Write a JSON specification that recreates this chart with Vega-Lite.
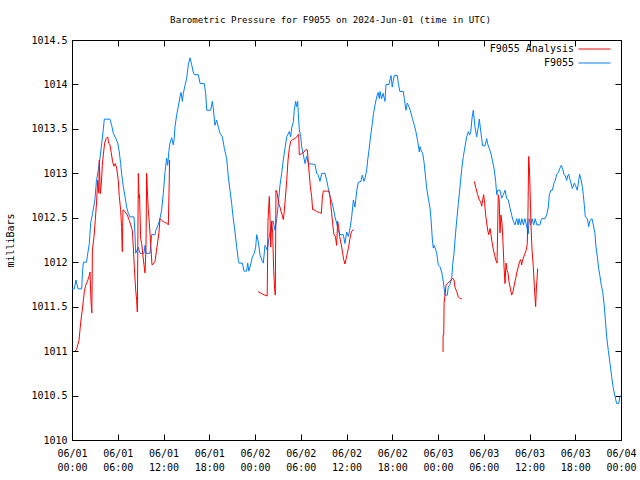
{
  "$schema": "https://vega.github.io/schema/vega-lite/v6.json",
  "width": 549,
  "height": 400,
  "autosize": {"type": "none"},
  "padding": {"left": 72, "top": 40, "right": 19, "bottom": 40},
  "title": {"text": "Barometric Pressure for F9055 on 2024-Jun-01 (time in UTC)", "font": "DejaVu Sans Mono", "fontSize": 9.2, "fontWeight": "normal", "anchor": "middle", "dx": -16, "offset": 10, "color": "black"},
  "config": {
    "font": "DejaVu Sans Mono",
    "view": {"stroke": "black", "strokeWidth": 1},
    "axis": {"domain": false, "grid": false, "tickColor": "black", "labelColor": "black", "labelFont": "DejaVu Sans Mono", "labelFontSize": 10, "titleFont": "DejaVu Sans Mono", "titleFontSize": 10, "titleFontWeight": "normal", "titleColor": "black"}
  },
  "data": {"values": [
    {"h":0.0,"p":1011.70,"series":"F9055","seg":"b"},{"h":0.3,"p":1011.70,"series":"F9055","seg":"b"},{"h":0.52,"p":1011.80,"series":"F9055","seg":"b"},{"h":0.8,"p":1011.70,"series":"F9055","seg":"b"},{"h":1.27,"p":1011.70,"series":"F9055","seg":"b"},{"h":1.4,"p":1011.92,"series":"F9055","seg":"b"},{"h":1.5,"p":1012.0,"series":"F9055","seg":"b"},{"h":1.9,"p":1012.0,"series":"F9055","seg":"b"},{"h":2.0,"p":1012.06,"series":"F9055","seg":"b"},{"h":2.27,"p":1012.21,"series":"F9055","seg":"b"},{"h":2.45,"p":1012.44,"series":"F9055","seg":"b"},{"h":2.7,"p":1012.55,"series":"F9055","seg":"b"},{"h":3.0,"p":1012.70,"series":"F9055","seg":"b"},{"h":3.2,"p":1012.91,"series":"F9055","seg":"b"},{"h":3.45,"p":1013.04,"series":"F9055","seg":"b"},{"h":3.67,"p":1013.17,"series":"F9055","seg":"b"},{"h":3.9,"p":1013.34,"series":"F9055","seg":"b"},{"h":4.1,"p":1013.49,"series":"F9055","seg":"b"},{"h":4.24,"p":1013.61,"series":"F9055","seg":"b"},{"h":4.98,"p":1013.61,"series":"F9055","seg":"b"},{"h":5.2,"p":1013.54,"series":"F9055","seg":"b"},{"h":5.42,"p":1013.45,"series":"F9055","seg":"b"},{"h":5.77,"p":1013.39,"series":"F9055","seg":"b"},{"h":6.0,"p":1013.34,"series":"F9055","seg":"b"},{"h":6.2,"p":1013.24,"series":"F9055","seg":"b"},{"h":6.38,"p":1013.11,"series":"F9055","seg":"b"},{"h":6.5,"p":1013.0,"series":"F9055","seg":"b"},{"h":6.73,"p":1012.85,"series":"F9055","seg":"b"},{"h":6.95,"p":1012.74,"series":"F9055","seg":"b"},{"h":7.17,"p":1012.62,"series":"F9055","seg":"b"},{"h":7.39,"p":1012.55,"series":"F9055","seg":"b"},{"h":7.6,"p":1012.51,"series":"F9055","seg":"b"},{"h":8.13,"p":1012.51,"series":"F9055","seg":"b"},{"h":8.26,"p":1012.32,"series":"F9055","seg":"b"},{"h":8.35,"p":1012.10,"series":"F9055","seg":"b"},{"h":8.7,"p":1012.17,"series":"F9055","seg":"b"},{"h":8.92,"p":1012.10,"series":"F9055","seg":"b"},{"h":9.44,"p":1012.10,"series":"F9055","seg":"b"},{"h":9.57,"p":1012.19,"series":"F9055","seg":"b"},{"h":9.7,"p":1012.10,"series":"F9055","seg":"b"},{"h":10.23,"p":1012.10,"series":"F9055","seg":"b"},{"h":10.45,"p":1012.31,"series":"F9055","seg":"b"},{"h":10.89,"p":1012.31,"series":"F9055","seg":"b"},{"h":11.0,"p":1012.36,"series":"F9055","seg":"b"},{"h":11.3,"p":1012.42,"series":"F9055","seg":"b"},{"h":11.54,"p":1012.49,"series":"F9055","seg":"b"},{"h":11.76,"p":1012.59,"series":"F9055","seg":"b"},{"h":11.98,"p":1012.78,"series":"F9055","seg":"b"},{"h":12.2,"p":1013.02,"series":"F9055","seg":"b"},{"h":12.42,"p":1013.17,"series":"F9055","seg":"b"},{"h":12.55,"p":1013.09,"series":"F9055","seg":"b"},{"h":12.72,"p":1013.26,"series":"F9055","seg":"b"},{"h":12.85,"p":1013.34,"series":"F9055","seg":"b"},{"h":13.07,"p":1013.40,"series":"F9055","seg":"b"},{"h":13.29,"p":1013.32,"series":"F9055","seg":"b"},{"h":13.4,"p":1013.39,"series":"F9055","seg":"b"},{"h":13.5,"p":1013.52,"series":"F9055","seg":"b"},{"h":13.73,"p":1013.66,"series":"F9055","seg":"b"},{"h":13.94,"p":1013.75,"series":"F9055","seg":"b"},{"h":14.16,"p":1013.86,"series":"F9055","seg":"b"},{"h":14.3,"p":1013.91,"series":"F9055","seg":"b"},{"h":14.47,"p":1013.81,"series":"F9055","seg":"b"},{"h":14.6,"p":1013.90,"series":"F9055","seg":"b"},{"h":14.82,"p":1013.99,"series":"F9055","seg":"b"},{"h":15.04,"p":1014.07,"series":"F9055","seg":"b"},{"h":15.25,"p":1014.22,"series":"F9055","seg":"b"},{"h":15.48,"p":1014.30,"series":"F9055","seg":"b"},{"h":15.7,"p":1014.22,"series":"F9055","seg":"b"},{"h":15.9,"p":1014.14,"series":"F9055","seg":"b"},{"h":16.04,"p":1014.11,"series":"F9055","seg":"b"},{"h":16.57,"p":1014.11,"series":"F9055","seg":"b"},{"h":16.8,"p":1014.01,"series":"F9055","seg":"b"},{"h":17.35,"p":1014.01,"series":"F9055","seg":"b"},{"h":17.53,"p":1013.90,"series":"F9055","seg":"b"},{"h":17.67,"p":1013.71,"series":"F9055","seg":"b"},{"h":18.19,"p":1013.71,"series":"F9055","seg":"b"},{"h":18.4,"p":1013.81,"series":"F9055","seg":"b"},{"h":18.53,"p":1013.73,"series":"F9055","seg":"b"},{"h":18.75,"p":1013.54,"series":"F9055","seg":"b"},{"h":18.97,"p":1013.60,"series":"F9055","seg":"b"},{"h":19.19,"p":1013.52,"series":"F9055","seg":"b"},{"h":19.41,"p":1013.45,"series":"F9055","seg":"b"},{"h":19.72,"p":1013.41,"series":"F9055","seg":"b"},{"h":19.98,"p":1013.28,"series":"F9055","seg":"b"},{"h":20.28,"p":1013.17,"series":"F9055","seg":"b"},{"h":20.5,"p":1012.96,"series":"F9055","seg":"b"},{"h":20.72,"p":1012.81,"series":"F9055","seg":"b"},{"h":20.94,"p":1012.66,"series":"F9055","seg":"b"},{"h":21.15,"p":1012.49,"series":"F9055","seg":"b"},{"h":21.38,"p":1012.34,"series":"F9055","seg":"b"},{"h":21.6,"p":1012.17,"series":"F9055","seg":"b"},{"h":21.82,"p":1012.02,"series":"F9055","seg":"b"},{"h":21.9,"p":1011.99,"series":"F9055","seg":"b"},{"h":22.34,"p":1011.99,"series":"F9055","seg":"b"},{"h":22.56,"p":1011.90,"series":"F9055","seg":"b"},{"h":22.9,"p":1011.90,"series":"F9055","seg":"b"},{"h":23.04,"p":1011.99,"series":"F9055","seg":"b"},{"h":23.2,"p":1011.90,"series":"F9055","seg":"b"},{"h":23.48,"p":1011.99,"series":"F9055","seg":"b"},{"h":23.65,"p":1012.06,"series":"F9055","seg":"b"},{"h":23.9,"p":1012.10,"series":"F9055","seg":"b"},{"h":24.09,"p":1012.17,"series":"F9055","seg":"b"},{"h":24.22,"p":1012.31,"series":"F9055","seg":"b"},{"h":24.44,"p":1012.23,"series":"F9055","seg":"b"},{"h":24.66,"p":1012.08,"series":"F9055","seg":"b"},{"h":24.96,"p":1012.01,"series":"F9055","seg":"b"},{"h":25.09,"p":1011.99,"series":"F9055","seg":"b"},{"h":25.31,"p":1012.19,"series":"F9055","seg":"b"},{"h":25.6,"p":1012.14,"series":"F9055","seg":"b"},{"h":25.88,"p":1012.29,"series":"F9055","seg":"b"},{"h":26.19,"p":1012.46,"series":"F9055","seg":"b"},{"h":26.4,"p":1012.46,"series":"F9055","seg":"b"},{"h":26.62,"p":1012.36,"series":"F9055","seg":"b"},{"h":26.85,"p":1012.49,"series":"F9055","seg":"b"},{"h":27.06,"p":1012.66,"series":"F9055","seg":"b"},{"h":27.28,"p":1012.87,"series":"F9055","seg":"b"},{"h":27.5,"p":1013.00,"series":"F9055","seg":"b"},{"h":27.71,"p":1013.15,"series":"F9055","seg":"b"},{"h":27.93,"p":1013.28,"series":"F9055","seg":"b"},{"h":28.16,"p":1013.41,"series":"F9055","seg":"b"},{"h":28.5,"p":1013.47,"series":"F9055","seg":"b"},{"h":28.68,"p":1013.41,"series":"F9055","seg":"b"},{"h":28.81,"p":1013.51,"series":"F9055","seg":"b"},{"h":29.03,"p":1013.58,"series":"F9055","seg":"b"},{"h":29.15,"p":1013.71,"series":"F9055","seg":"b"},{"h":29.33,"p":1013.81,"series":"F9055","seg":"b"},{"h":29.45,"p":1013.75,"series":"F9055","seg":"b"},{"h":29.6,"p":1013.81,"series":"F9055","seg":"b"},{"h":29.68,"p":1013.67,"series":"F9055","seg":"b"},{"h":29.81,"p":1013.49,"series":"F9055","seg":"b"},{"h":30.0,"p":1013.41,"series":"F9055","seg":"b"},{"h":30.12,"p":1013.30,"series":"F9055","seg":"b"},{"h":30.34,"p":1013.21,"series":"F9055","seg":"b"},{"h":30.56,"p":1013.11,"series":"F9055","seg":"b"},{"h":30.78,"p":1013.19,"series":"F9055","seg":"b"},{"h":31.0,"p":1013.11,"series":"F9055","seg":"b"},{"h":31.87,"p":1013.10,"series":"F9055","seg":"b"},{"h":32.09,"p":1013.0,"series":"F9055","seg":"b"},{"h":32.3,"p":1012.98,"series":"F9055","seg":"b"},{"h":32.52,"p":1012.91,"series":"F9055","seg":"b"},{"h":32.75,"p":1013.0,"series":"F9055","seg":"b"},{"h":33.18,"p":1013.0,"series":"F9055","seg":"b"},{"h":33.4,"p":1012.92,"series":"F9055","seg":"b"},{"h":33.62,"p":1012.83,"series":"F9055","seg":"b"},{"h":33.84,"p":1012.74,"series":"F9055","seg":"b"},{"h":34.06,"p":1012.68,"series":"F9055","seg":"b"},{"h":34.27,"p":1012.61,"series":"F9055","seg":"b"},{"h":34.49,"p":1012.51,"series":"F9055","seg":"b"},{"h":34.71,"p":1012.44,"series":"F9055","seg":"b"},{"h":34.93,"p":1012.36,"series":"F9055","seg":"b"},{"h":35.15,"p":1012.31,"series":"F9055","seg":"b"},{"h":35.58,"p":1012.31,"series":"F9055","seg":"b"},{"h":35.8,"p":1012.21,"series":"F9055","seg":"b"},{"h":36.02,"p":1012.34,"series":"F9055","seg":"b"},{"h":36.24,"p":1012.29,"series":"F9055","seg":"b"},{"h":36.46,"p":1012.38,"series":"F9055","seg":"b"},{"h":36.68,"p":1012.51,"series":"F9055","seg":"b"},{"h":36.9,"p":1012.70,"series":"F9055","seg":"b"},{"h":37.11,"p":1012.62,"series":"F9055","seg":"b"},{"h":37.34,"p":1012.80,"series":"F9055","seg":"b"},{"h":37.55,"p":1012.90,"series":"F9055","seg":"b"},{"h":37.9,"p":1012.91,"series":"F9055","seg":"b"},{"h":38.07,"p":1012.98,"series":"F9055","seg":"b"},{"h":38.3,"p":1012.91,"series":"F9055","seg":"b"},{"h":38.45,"p":1012.95,"series":"F9055","seg":"b"},{"h":38.65,"p":1013.04,"series":"F9055","seg":"b"},{"h":38.78,"p":1013.15,"series":"F9055","seg":"b"},{"h":38.95,"p":1013.26,"series":"F9055","seg":"b"},{"h":39.08,"p":1013.36,"series":"F9055","seg":"b"},{"h":39.21,"p":1013.45,"series":"F9055","seg":"b"},{"h":39.39,"p":1013.56,"series":"F9055","seg":"b"},{"h":39.52,"p":1013.66,"series":"F9055","seg":"b"},{"h":39.74,"p":1013.77,"series":"F9055","seg":"b"},{"h":39.96,"p":1013.86,"series":"F9055","seg":"b"},{"h":40.17,"p":1013.91,"series":"F9055","seg":"b"},{"h":40.3,"p":1013.84,"series":"F9055","seg":"b"},{"h":40.4,"p":1013.92,"series":"F9055","seg":"b"},{"h":40.6,"p":1013.84,"series":"F9055","seg":"b"},{"h":40.8,"p":1013.90,"series":"F9055","seg":"b"},{"h":41.05,"p":1013.81,"series":"F9055","seg":"b"},{"h":41.18,"p":1014.00,"series":"F9055","seg":"b"},{"h":41.57,"p":1014.00,"series":"F9055","seg":"b"},{"h":41.7,"p":1014.05,"series":"F9055","seg":"b"},{"h":41.84,"p":1014.10,"series":"F9055","seg":"b"},{"h":42.0,"p":1013.97,"series":"F9055","seg":"b"},{"h":42.13,"p":1014.04,"series":"F9055","seg":"b"},{"h":42.27,"p":1014.10,"series":"F9055","seg":"b"},{"h":42.66,"p":1014.10,"series":"F9055","seg":"b"},{"h":42.8,"p":1014.01,"series":"F9055","seg":"b"},{"h":43.0,"p":1013.92,"series":"F9055","seg":"b"},{"h":43.44,"p":1013.92,"series":"F9055","seg":"b"},{"h":43.58,"p":1013.84,"series":"F9055","seg":"b"},{"h":43.8,"p":1013.71,"series":"F9055","seg":"b"},{"h":43.97,"p":1013.79,"series":"F9055","seg":"b"},{"h":44.2,"p":1013.75,"series":"F9055","seg":"b"},{"h":44.42,"p":1013.69,"series":"F9055","seg":"b"},{"h":44.63,"p":1013.62,"series":"F9055","seg":"b"},{"h":44.9,"p":1013.54,"series":"F9055","seg":"b"},{"h":45.1,"p":1013.47,"series":"F9055","seg":"b"},{"h":45.34,"p":1013.36,"series":"F9055","seg":"b"},{"h":45.55,"p":1013.24,"series":"F9055","seg":"b"},{"h":45.64,"p":1013.30,"series":"F9055","seg":"b"},{"h":45.78,"p":1013.26,"series":"F9055","seg":"b"},{"h":46.0,"p":1013.22,"series":"F9055","seg":"b"},{"h":46.16,"p":1013.13,"series":"F9055","seg":"b"},{"h":46.39,"p":1012.94,"series":"F9055","seg":"b"},{"h":46.52,"p":1012.83,"series":"F9055","seg":"b"},{"h":46.73,"p":1012.72,"series":"F9055","seg":"b"},{"h":46.95,"p":1012.61,"series":"F9055","seg":"b"},{"h":47.08,"p":1012.49,"series":"F9055","seg":"b"},{"h":47.25,"p":1012.27,"series":"F9055","seg":"b"},{"h":47.38,"p":1012.16,"series":"F9055","seg":"b"},{"h":47.51,"p":1012.19,"series":"F9055","seg":"b"},{"h":47.7,"p":1012.14,"series":"F9055","seg":"b"},{"h":47.83,"p":1012.10,"series":"F9055","seg":"b"},{"h":48.04,"p":1011.97,"series":"F9055","seg":"b"},{"h":48.26,"p":1011.95,"series":"F9055","seg":"b"},{"h":48.48,"p":1011.89,"series":"F9055","seg":"b"},{"h":48.7,"p":1011.78,"series":"F9055","seg":"b"},{"h":48.92,"p":1011.63,"series":"F9055","seg":"b"},{"h":49.22,"p":1011.63,"series":"F9055","seg":"b"},{"h":49.35,"p":1011.72,"series":"F9055","seg":"b"},{"h":49.57,"p":1011.75,"series":"F9055","seg":"b"},{"h":49.8,"p":1011.82,"series":"F9055","seg":"b"},{"h":49.92,"p":1011.97,"series":"F9055","seg":"b"},{"h":50.1,"p":1012.10,"series":"F9055","seg":"b"},{"h":50.23,"p":1012.25,"series":"F9055","seg":"b"},{"h":50.45,"p":1012.47,"series":"F9055","seg":"b"},{"h":50.67,"p":1012.66,"series":"F9055","seg":"b"},{"h":50.89,"p":1012.85,"series":"F9055","seg":"b"},{"h":51.1,"p":1013.04,"series":"F9055","seg":"b"},{"h":51.32,"p":1013.19,"series":"F9055","seg":"b"},{"h":51.54,"p":1013.30,"series":"F9055","seg":"b"},{"h":51.76,"p":1013.41,"series":"F9055","seg":"b"},{"h":51.98,"p":1013.47,"series":"F9055","seg":"b"},{"h":52.15,"p":1013.43,"series":"F9055","seg":"b"},{"h":52.3,"p":1013.47,"series":"F9055","seg":"b"},{"h":52.46,"p":1013.62,"series":"F9055","seg":"b"},{"h":52.63,"p":1013.71,"series":"F9055","seg":"b"},{"h":52.85,"p":1013.52,"series":"F9055","seg":"b"},{"h":53.07,"p":1013.41,"series":"F9055","seg":"b"},{"h":53.28,"p":1013.52,"series":"F9055","seg":"b"},{"h":53.42,"p":1013.61,"series":"F9055","seg":"b"},{"h":53.55,"p":1013.51,"series":"F9055","seg":"b"},{"h":53.73,"p":1013.39,"series":"F9055","seg":"b"},{"h":53.86,"p":1013.31,"series":"F9055","seg":"b"},{"h":54.16,"p":1013.31,"series":"F9055","seg":"b"},{"h":54.39,"p":1013.39,"series":"F9055","seg":"b"},{"h":54.52,"p":1013.33,"series":"F9055","seg":"b"},{"h":54.73,"p":1013.28,"series":"F9055","seg":"b"},{"h":54.95,"p":1013.22,"series":"F9055","seg":"b"},{"h":55.17,"p":1013.13,"series":"F9055","seg":"b"},{"h":55.38,"p":1013.04,"series":"F9055","seg":"b"},{"h":55.56,"p":1012.91,"series":"F9055","seg":"b"},{"h":55.7,"p":1012.76,"series":"F9055","seg":"b"},{"h":55.83,"p":1012.81,"series":"F9055","seg":"b"},{"h":56.13,"p":1012.81,"series":"F9055","seg":"b"},{"h":56.35,"p":1012.72,"series":"F9055","seg":"b"},{"h":56.57,"p":1012.76,"series":"F9055","seg":"b"},{"h":56.79,"p":1012.81,"series":"F9055","seg":"b"},{"h":57.0,"p":1012.72,"series":"F9055","seg":"b"},{"h":57.22,"p":1012.70,"series":"F9055","seg":"b"},{"h":57.44,"p":1012.61,"series":"F9055","seg":"b"},{"h":57.66,"p":1012.53,"series":"F9055","seg":"b"},{"h":57.88,"p":1012.46,"series":"F9055","seg":"b"},{"h":58.1,"p":1012.42,"series":"F9055","seg":"b"},{"h":58.32,"p":1012.49,"series":"F9055","seg":"b"},{"h":58.5,"p":1012.42,"series":"F9055","seg":"b"},{"h":58.63,"p":1012.49,"series":"F9055","seg":"b"},{"h":58.82,"p":1012.42,"series":"F9055","seg":"b"},{"h":59.0,"p":1012.49,"series":"F9055","seg":"b"},{"h":59.2,"p":1012.42,"series":"F9055","seg":"b"},{"h":59.4,"p":1012.49,"series":"F9055","seg":"b"},{"h":59.6,"p":1012.42,"series":"F9055","seg":"b"},{"h":59.84,"p":1012.32,"series":"F9055","seg":"b"},{"h":59.95,"p":1012.49,"series":"F9055","seg":"b"},{"h":60.15,"p":1012.42,"series":"F9055","seg":"b"},{"h":60.35,"p":1012.49,"series":"F9055","seg":"b"},{"h":60.55,"p":1012.42,"series":"F9055","seg":"b"},{"h":60.75,"p":1012.49,"series":"F9055","seg":"b"},{"h":60.95,"p":1012.42,"series":"F9055","seg":"b"},{"h":61.38,"p":1012.42,"series":"F9055","seg":"b"},{"h":61.5,"p":1012.47,"series":"F9055","seg":"b"},{"h":61.6,"p":1012.49,"series":"F9055","seg":"b"},{"h":62.03,"p":1012.49,"series":"F9055","seg":"b"},{"h":62.25,"p":1012.53,"series":"F9055","seg":"b"},{"h":62.47,"p":1012.62,"series":"F9055","seg":"b"},{"h":62.6,"p":1012.76,"series":"F9055","seg":"b"},{"h":62.82,"p":1012.81,"series":"F9055","seg":"b"},{"h":63.0,"p":1012.81,"series":"F9055","seg":"b"},{"h":63.21,"p":1012.89,"series":"F9055","seg":"b"},{"h":63.38,"p":1012.92,"series":"F9055","seg":"b"},{"h":63.57,"p":1012.99,"series":"F9055","seg":"b"},{"h":63.78,"p":1013.01,"series":"F9055","seg":"b"},{"h":64.0,"p":1013.06,"series":"F9055","seg":"b"},{"h":64.17,"p":1013.09,"series":"F9055","seg":"b"},{"h":64.35,"p":1013.05,"series":"F9055","seg":"b"},{"h":64.52,"p":1012.99,"series":"F9055","seg":"b"},{"h":64.7,"p":1012.97,"series":"F9055","seg":"b"},{"h":64.88,"p":1012.92,"series":"F9055","seg":"b"},{"h":65.0,"p":1012.97,"series":"F9055","seg":"b"},{"h":65.14,"p":1012.99,"series":"F9055","seg":"b"},{"h":65.27,"p":1012.94,"series":"F9055","seg":"b"},{"h":65.44,"p":1012.89,"series":"F9055","seg":"b"},{"h":65.62,"p":1012.83,"series":"F9055","seg":"b"},{"h":65.88,"p":1012.89,"series":"F9055","seg":"b"},{"h":66.05,"p":1012.86,"series":"F9055","seg":"b"},{"h":66.27,"p":1012.81,"series":"F9055","seg":"b"},{"h":66.45,"p":1012.92,"series":"F9055","seg":"b"},{"h":66.58,"p":1012.99,"series":"F9055","seg":"b"},{"h":66.72,"p":1012.94,"series":"F9055","seg":"b"},{"h":66.89,"p":1012.87,"series":"F9055","seg":"b"},{"h":67.06,"p":1012.76,"series":"F9055","seg":"b"},{"h":67.19,"p":1012.64,"series":"F9055","seg":"b"},{"h":67.32,"p":1012.51,"series":"F9055","seg":"b"},{"h":67.58,"p":1012.49,"series":"F9055","seg":"b"},{"h":67.77,"p":1012.40,"series":"F9055","seg":"b"},{"h":67.93,"p":1012.47,"series":"F9055","seg":"b"},{"h":68.2,"p":1012.49,"series":"F9055","seg":"b"},{"h":68.37,"p":1012.42,"series":"F9055","seg":"b"},{"h":68.59,"p":1012.32,"series":"F9055","seg":"b"},{"h":68.72,"p":1012.17,"series":"F9055","seg":"b"},{"h":68.9,"p":1012.06,"series":"F9055","seg":"b"},{"h":69.07,"p":1011.93,"series":"F9055","seg":"b"},{"h":69.25,"p":1011.84,"series":"F9055","seg":"b"},{"h":69.42,"p":1011.74,"series":"F9055","seg":"b"},{"h":69.6,"p":1011.67,"series":"F9055","seg":"b"},{"h":69.77,"p":1011.54,"series":"F9055","seg":"b"},{"h":69.95,"p":1011.35,"series":"F9055","seg":"b"},{"h":70.12,"p":1011.16,"series":"F9055","seg":"b"},{"h":70.33,"p":1011.01,"series":"F9055","seg":"b"},{"h":70.56,"p":1010.86,"series":"F9055","seg":"b"},{"h":70.78,"p":1010.71,"series":"F9055","seg":"b"},{"h":70.99,"p":1010.58,"series":"F9055","seg":"b"},{"h":71.21,"p":1010.49,"series":"F9055","seg":"b"},{"h":71.43,"p":1010.41,"series":"F9055","seg":"b"},{"h":71.7,"p":1010.41,"series":"F9055","seg":"b"},{"h":71.87,"p":1010.49,"series":"F9055","seg":"b"},{"h":72.0,"p":1010.50,"series":"F9055","seg":"b"},

    {"h":0.4,"p":1011.00,"series":"F9055 Analysis","seg":"r1"},{"h":0.6,"p":1011.02,"series":"F9055 Analysis","seg":"r1"},{"h":0.75,"p":1011.07,"series":"F9055 Analysis","seg":"r1"},{"h":0.92,"p":1011.12,"series":"F9055 Analysis","seg":"r1"},{"h":1.05,"p":1011.24,"series":"F9055 Analysis","seg":"r1"},{"h":1.18,"p":1011.35,"series":"F9055 Analysis","seg":"r1"},{"h":1.35,"p":1011.46,"series":"F9055 Analysis","seg":"r1"},{"h":1.49,"p":1011.57,"series":"F9055 Analysis","seg":"r1"},{"h":1.62,"p":1011.67,"series":"F9055 Analysis","seg":"r1"},{"h":1.79,"p":1011.74,"series":"F9055 Analysis","seg":"r1"},{"h":2.0,"p":1011.78,"series":"F9055 Analysis","seg":"r1"},{"h":2.23,"p":1011.84,"series":"F9055 Analysis","seg":"r1"},{"h":2.36,"p":1011.89,"series":"F9055 Analysis","seg":"r1"},{"h":2.5,"p":1011.55,"series":"F9055 Analysis","seg":"r1"},{"h":2.6,"p":1011.43,"series":"F9055 Analysis","seg":"r1"},{"h":2.68,"p":1012.14,"series":"F9055 Analysis","seg":"r1"},{"h":2.89,"p":1012.29,"series":"F9055 Analysis","seg":"r1"},{"h":3.05,"p":1012.47,"series":"F9055 Analysis","seg":"r1"},{"h":3.24,"p":1012.70,"series":"F9055 Analysis","seg":"r1"},{"h":3.37,"p":1012.92,"series":"F9055 Analysis","seg":"r1"},{"h":3.5,"p":1012.78,"series":"F9055 Analysis","seg":"r1"},{"h":3.58,"p":1013.15,"series":"F9055 Analysis","seg":"r1"},{"h":3.71,"p":1012.77,"series":"F9055 Analysis","seg":"r1"},{"h":3.85,"p":1012.89,"series":"F9055 Analysis","seg":"r1"},{"h":3.98,"p":1013.09,"series":"F9055 Analysis","seg":"r1"},{"h":4.11,"p":1013.21,"series":"F9055 Analysis","seg":"r1"},{"h":4.28,"p":1013.34,"series":"F9055 Analysis","seg":"r1"},{"h":4.46,"p":1013.39,"series":"F9055 Analysis","seg":"r1"},{"h":4.68,"p":1013.41,"series":"F9055 Analysis","seg":"r1"},{"h":4.81,"p":1013.34,"series":"F9055 Analysis","seg":"r1"},{"h":4.98,"p":1013.32,"series":"F9055 Analysis","seg":"r1"},{"h":5.15,"p":1013.23,"series":"F9055 Analysis","seg":"r1"},{"h":5.33,"p":1013.13,"series":"F9055 Analysis","seg":"r1"},{"h":5.5,"p":1013.08,"series":"F9055 Analysis","seg":"r1"},{"h":5.68,"p":1013.11,"series":"F9055 Analysis","seg":"r1"},{"h":5.86,"p":1013.06,"series":"F9055 Analysis","seg":"r1"},{"h":6.07,"p":1012.92,"series":"F9055 Analysis","seg":"r1"},{"h":6.2,"p":1012.74,"series":"F9055 Analysis","seg":"r1"},{"h":6.38,"p":1012.59,"series":"F9055 Analysis","seg":"r1"},{"h":6.5,"p":1012.40,"series":"F9055 Analysis","seg":"r1"},{"h":6.6,"p":1012.12,"series":"F9055 Analysis","seg":"r1"},{"h":6.69,"p":1012.59,"series":"F9055 Analysis","seg":"r1"},{"h":6.95,"p":1012.57,"series":"F9055 Analysis","seg":"r1"},{"h":7.26,"p":1012.53,"series":"F9055 Analysis","seg":"r1"},{"h":7.52,"p":1012.47,"series":"F9055 Analysis","seg":"r1"},{"h":7.7,"p":1012.42,"series":"F9055 Analysis","seg":"r1"},{"h":7.91,"p":1012.36,"series":"F9055 Analysis","seg":"r1"},{"h":8.04,"p":1012.17,"series":"F9055 Analysis","seg":"r1"},{"h":8.17,"p":1011.95,"series":"F9055 Analysis","seg":"r1"},{"h":8.35,"p":1011.69,"series":"F9055 Analysis","seg":"r1"},{"h":8.48,"p":1011.57,"series":"F9055 Analysis","seg":"r1"},{"h":8.57,"p":1011.44,"series":"F9055 Analysis","seg":"r1"},{"h":8.7,"p":1013.00,"series":"F9055 Analysis","seg":"r1"},{"h":8.79,"p":1012.72,"series":"F9055 Analysis","seg":"r1"},{"h":8.86,"p":1012.76,"series":"F9055 Analysis","seg":"r1"},{"h":9.0,"p":1012.27,"series":"F9055 Analysis","seg":"r1"},{"h":9.14,"p":1012.21,"series":"F9055 Analysis","seg":"r1"},{"h":9.27,"p":1012.10,"series":"F9055 Analysis","seg":"r1"},{"h":9.44,"p":1011.97,"series":"F9055 Analysis","seg":"r1"},{"h":9.57,"p":1011.88,"series":"F9055 Analysis","seg":"r1"},{"h":9.7,"p":1012.14,"series":"F9055 Analysis","seg":"r1"},{"h":9.79,"p":1013.00,"series":"F9055 Analysis","seg":"r1"},{"h":9.88,"p":1012.81,"series":"F9055 Analysis","seg":"r1"},{"h":10.0,"p":1012.59,"series":"F9055 Analysis","seg":"r1"},{"h":10.14,"p":1012.44,"series":"F9055 Analysis","seg":"r1"},{"h":10.32,"p":1012.21,"series":"F9055 Analysis","seg":"r1"},{"h":10.49,"p":1011.97,"series":"F9055 Analysis","seg":"r1"},{"h":10.66,"p":1011.98,"series":"F9055 Analysis","seg":"r1"},{"h":10.89,"p":1012.01,"series":"F9055 Analysis","seg":"r1"},{"h":11.06,"p":1012.12,"series":"F9055 Analysis","seg":"r1"},{"h":11.24,"p":1012.23,"series":"F9055 Analysis","seg":"r1"},{"h":11.41,"p":1012.34,"series":"F9055 Analysis","seg":"r1"},{"h":11.54,"p":1012.49,"series":"F9055 Analysis","seg":"r1"},{"h":11.76,"p":1012.47,"series":"F9055 Analysis","seg":"r1"},{"h":12.1,"p":1012.45,"series":"F9055 Analysis","seg":"r1"},{"h":12.42,"p":1012.44,"series":"F9055 Analysis","seg":"r1"},{"h":12.63,"p":1012.42,"series":"F9055 Analysis","seg":"r1"},{"h":12.72,"p":1012.77,"series":"F9055 Analysis","seg":"r1"},{"h":12.8,"p":1013.15,"series":"F9055 Analysis","seg":"r1"},

    {"h":24.4,"p":1011.67,"series":"F9055 Analysis","seg":"r2"},{"h":25.0,"p":1011.64,"series":"F9055 Analysis","seg":"r2"},{"h":25.6,"p":1011.62,"series":"F9055 Analysis","seg":"r2"},{"h":25.7,"p":1012.46,"series":"F9055 Analysis","seg":"r2"},{"h":25.88,"p":1012.74,"series":"F9055 Analysis","seg":"r2"},{"h":25.97,"p":1012.50,"series":"F9055 Analysis","seg":"r2"},{"h":26.06,"p":1012.17,"series":"F9055 Analysis","seg":"r2"},{"h":26.2,"p":1012.46,"series":"F9055 Analysis","seg":"r2"},{"h":26.32,"p":1012.32,"series":"F9055 Analysis","seg":"r2"},{"h":26.45,"p":1011.91,"series":"F9055 Analysis","seg":"r2"},{"h":26.58,"p":1011.69,"series":"F9055 Analysis","seg":"r2"},{"h":26.66,"p":1011.63,"series":"F9055 Analysis","seg":"r2"},{"h":26.75,"p":1012.81,"series":"F9055 Analysis","seg":"r2"},{"h":26.93,"p":1012.77,"series":"F9055 Analysis","seg":"r2"},{"h":27.1,"p":1012.66,"series":"F9055 Analysis","seg":"r2"},{"h":27.28,"p":1012.62,"series":"F9055 Analysis","seg":"r2"},{"h":27.41,"p":1012.57,"series":"F9055 Analysis","seg":"r2"},{"h":27.58,"p":1012.53,"series":"F9055 Analysis","seg":"r2"},{"h":27.71,"p":1012.48,"series":"F9055 Analysis","seg":"r2"},{"h":27.84,"p":1012.57,"series":"F9055 Analysis","seg":"r2"},{"h":27.98,"p":1012.72,"series":"F9055 Analysis","seg":"r2"},{"h":28.16,"p":1012.92,"series":"F9055 Analysis","seg":"r2"},{"h":28.33,"p":1013.15,"series":"F9055 Analysis","seg":"r2"},{"h":28.5,"p":1013.28,"series":"F9055 Analysis","seg":"r2"},{"h":28.68,"p":1013.36,"series":"F9055 Analysis","seg":"r2"},{"h":28.94,"p":1013.38,"series":"F9055 Analysis","seg":"r2"},{"h":29.25,"p":1013.39,"series":"F9055 Analysis","seg":"r2"},{"h":29.55,"p":1013.42,"series":"F9055 Analysis","seg":"r2"},{"h":29.73,"p":1013.44,"series":"F9055 Analysis","seg":"r2"},{"h":29.81,"p":1013.21,"series":"F9055 Analysis","seg":"r2"},{"h":30.12,"p":1013.22,"series":"F9055 Analysis","seg":"r2"},{"h":30.43,"p":1013.24,"series":"F9055 Analysis","seg":"r2"},{"h":30.69,"p":1013.27,"series":"F9055 Analysis","seg":"r2"},{"h":30.87,"p":1013.26,"series":"F9055 Analysis","seg":"r2"},{"h":31.0,"p":1013.11,"series":"F9055 Analysis","seg":"r2"},{"h":31.13,"p":1012.98,"series":"F9055 Analysis","seg":"r2"},{"h":31.26,"p":1012.85,"series":"F9055 Analysis","seg":"r2"},{"h":31.43,"p":1012.74,"series":"F9055 Analysis","seg":"r2"},{"h":31.56,"p":1012.59,"series":"F9055 Analysis","seg":"r2"},{"h":31.74,"p":1012.59,"series":"F9055 Analysis","seg":"r2"},{"h":32.09,"p":1012.57,"series":"F9055 Analysis","seg":"r2"},{"h":32.43,"p":1012.56,"series":"F9055 Analysis","seg":"r2"},{"h":32.7,"p":1012.55,"series":"F9055 Analysis","seg":"r2"},{"h":32.83,"p":1012.72,"series":"F9055 Analysis","seg":"r2"},{"h":32.96,"p":1012.80,"series":"F9055 Analysis","seg":"r2"},{"h":33.4,"p":1012.80,"series":"F9055 Analysis","seg":"r2"},{"h":33.7,"p":1012.80,"series":"F9055 Analysis","seg":"r2"},{"h":33.84,"p":1012.74,"series":"F9055 Analysis","seg":"r2"},{"h":33.97,"p":1012.62,"series":"F9055 Analysis","seg":"r2"},{"h":34.1,"p":1012.51,"series":"F9055 Analysis","seg":"r2"},{"h":34.23,"p":1012.40,"series":"F9055 Analysis","seg":"r2"},{"h":34.36,"p":1012.31,"series":"F9055 Analysis","seg":"r2"},{"h":34.54,"p":1012.29,"series":"F9055 Analysis","seg":"r2"},{"h":34.71,"p":1012.19,"series":"F9055 Analysis","seg":"r2"},{"h":34.84,"p":1012.46,"series":"F9055 Analysis","seg":"r2"},{"h":34.97,"p":1012.40,"series":"F9055 Analysis","seg":"r2"},{"h":35.1,"p":1012.29,"series":"F9055 Analysis","seg":"r2"},{"h":35.2,"p":1012.25,"series":"F9055 Analysis","seg":"r2"},{"h":35.37,"p":1012.17,"series":"F9055 Analysis","seg":"r2"},{"h":35.5,"p":1012.10,"series":"F9055 Analysis","seg":"r2"},{"h":35.63,"p":1012.03,"series":"F9055 Analysis","seg":"r2"},{"h":35.8,"p":1011.98,"series":"F9055 Analysis","seg":"r2"},{"h":35.93,"p":1012.03,"series":"F9055 Analysis","seg":"r2"},{"h":36.1,"p":1012.10,"series":"F9055 Analysis","seg":"r2"},{"h":36.28,"p":1012.17,"series":"F9055 Analysis","seg":"r2"},{"h":36.46,"p":1012.27,"series":"F9055 Analysis","seg":"r2"},{"h":36.63,"p":1012.34,"series":"F9055 Analysis","seg":"r2"},{"h":36.9,"p":1012.37,"series":"F9055 Analysis","seg":"r2"},

    {"h":48.66,"p":1010.99,"series":"F9055 Analysis","seg":"r3"},{"h":48.67,"p":1011.18,"series":"F9055 Analysis","seg":"r3"},{"h":48.75,"p":1011.18,"series":"F9055 Analysis","seg":"r3"},{"h":48.8,"p":1011.54,"series":"F9055 Analysis","seg":"r3"},{"h":48.92,"p":1011.63,"series":"F9055 Analysis","seg":"r3"},{"h":49.05,"p":1011.74,"series":"F9055 Analysis","seg":"r3"},{"h":49.22,"p":1011.76,"series":"F9055 Analysis","seg":"r3"},{"h":49.48,"p":1011.78,"series":"F9055 Analysis","seg":"r3"},{"h":49.7,"p":1011.80,"series":"F9055 Analysis","seg":"r3"},{"h":49.92,"p":1011.82,"series":"F9055 Analysis","seg":"r3"},{"h":50.1,"p":1011.80,"series":"F9055 Analysis","seg":"r3"},{"h":50.23,"p":1011.72,"series":"F9055 Analysis","seg":"r3"},{"h":50.45,"p":1011.67,"series":"F9055 Analysis","seg":"r3"},{"h":50.67,"p":1011.61,"series":"F9055 Analysis","seg":"r3"},{"h":50.89,"p":1011.59,"series":"F9055 Analysis","seg":"r3"},{"h":51.1,"p":1011.59,"series":"F9055 Analysis","seg":"r3"},

    {"h":52.76,"p":1012.91,"series":"F9055 Analysis","seg":"r4"},{"h":52.98,"p":1012.83,"series":"F9055 Analysis","seg":"r4"},{"h":53.2,"p":1012.76,"series":"F9055 Analysis","seg":"r4"},{"h":53.42,"p":1012.70,"series":"F9055 Analysis","seg":"r4"},{"h":53.6,"p":1012.68,"series":"F9055 Analysis","seg":"r4"},{"h":53.73,"p":1012.63,"series":"F9055 Analysis","seg":"r4"},{"h":53.86,"p":1012.70,"series":"F9055 Analysis","seg":"r4"},{"h":53.99,"p":1012.76,"series":"F9055 Analysis","seg":"r4"},{"h":54.12,"p":1012.66,"series":"F9055 Analysis","seg":"r4"},{"h":54.25,"p":1012.53,"series":"F9055 Analysis","seg":"r4"},{"h":54.39,"p":1012.44,"series":"F9055 Analysis","seg":"r4"},{"h":54.52,"p":1012.36,"series":"F9055 Analysis","seg":"r4"},{"h":54.65,"p":1012.31,"series":"F9055 Analysis","seg":"r4"},{"h":54.82,"p":1012.38,"series":"F9055 Analysis","seg":"r4"},{"h":54.95,"p":1012.31,"series":"F9055 Analysis","seg":"r4"},{"h":55.08,"p":1012.23,"series":"F9055 Analysis","seg":"r4"},{"h":55.26,"p":1012.14,"series":"F9055 Analysis","seg":"r4"},{"h":55.43,"p":1012.08,"series":"F9055 Analysis","seg":"r4"},{"h":55.6,"p":1012.02,"series":"F9055 Analysis","seg":"r4"},{"h":55.74,"p":1011.99,"series":"F9055 Analysis","seg":"r4"},{"h":55.83,"p":1012.38,"series":"F9055 Analysis","seg":"r4"},{"h":55.9,"p":1012.76,"series":"F9055 Analysis","seg":"r4"},{"h":56.03,"p":1012.70,"series":"F9055 Analysis","seg":"r4"},{"h":56.13,"p":1012.33,"series":"F9055 Analysis","seg":"r4"},{"h":56.26,"p":1012.53,"series":"F9055 Analysis","seg":"r4"},{"h":56.39,"p":1012.44,"series":"F9055 Analysis","seg":"r4"},{"h":56.52,"p":1012.23,"series":"F9055 Analysis","seg":"r4"},{"h":56.66,"p":1011.95,"series":"F9055 Analysis","seg":"r4"},{"h":56.79,"p":1011.76,"series":"F9055 Analysis","seg":"r4"},{"h":56.92,"p":1011.99,"series":"F9055 Analysis","seg":"r4"},{"h":57.05,"p":1011.91,"series":"F9055 Analysis","seg":"r4"},{"h":57.18,"p":1011.88,"series":"F9055 Analysis","seg":"r4"},{"h":57.31,"p":1011.78,"series":"F9055 Analysis","seg":"r4"},{"h":57.48,"p":1011.71,"series":"F9055 Analysis","seg":"r4"},{"h":57.66,"p":1011.63,"series":"F9055 Analysis","seg":"r4"},{"h":57.84,"p":1011.67,"series":"F9055 Analysis","seg":"r4"},{"h":58.0,"p":1011.74,"series":"F9055 Analysis","seg":"r4"},{"h":58.19,"p":1011.82,"series":"F9055 Analysis","seg":"r4"},{"h":58.36,"p":1011.89,"series":"F9055 Analysis","seg":"r4"},{"h":58.53,"p":1011.95,"series":"F9055 Analysis","seg":"r4"},{"h":58.71,"p":1012.01,"series":"F9055 Analysis","seg":"r4"},{"h":58.84,"p":1012.03,"series":"F9055 Analysis","seg":"r4"},{"h":58.97,"p":1011.97,"series":"F9055 Analysis","seg":"r4"},{"h":59.1,"p":1012.03,"series":"F9055 Analysis","seg":"r4"},{"h":59.24,"p":1012.06,"series":"F9055 Analysis","seg":"r4"},{"h":59.41,"p":1012.10,"series":"F9055 Analysis","seg":"r4"},{"h":59.58,"p":1012.14,"series":"F9055 Analysis","seg":"r4"},{"h":59.71,"p":1012.21,"series":"F9055 Analysis","seg":"r4"},{"h":59.8,"p":1012.55,"series":"F9055 Analysis","seg":"r4"},{"h":59.89,"p":1013.19,"series":"F9055 Analysis","seg":"r4"},{"h":59.98,"p":1013.08,"series":"F9055 Analysis","seg":"r4"},{"h":60.07,"p":1012.83,"series":"F9055 Analysis","seg":"r4"},{"h":60.2,"p":1012.40,"series":"F9055 Analysis","seg":"r4"},{"h":60.33,"p":1012.14,"series":"F9055 Analysis","seg":"r4"},{"h":60.5,"p":1011.95,"series":"F9055 Analysis","seg":"r4"},{"h":60.64,"p":1011.72,"series":"F9055 Analysis","seg":"r4"},{"h":60.72,"p":1011.61,"series":"F9055 Analysis","seg":"r4"},{"h":60.81,"p":1011.50,"series":"F9055 Analysis","seg":"r4"},{"h":60.9,"p":1011.71,"series":"F9055 Analysis","seg":"r4"},{"h":60.98,"p":1011.80,"series":"F9055 Analysis","seg":"r4"},{"h":61.07,"p":1011.93,"series":"F9055 Analysis","seg":"r4"}
  ]},
  "layer": [
    {
      "mark": {"type": "line", "strokeWidth": 1, "clip": true},
      "encoding": {
        "x": {"field": "h", "type": "quantitative", "scale": {"domain": [0, 72], "nice": false, "zero": false},
          "axis": {"orient": "bottom", "title": null, "values": [0,6,12,18,24,30,36,42,48,54,60,66,72], "tickSize": -6, "labelPadding": 14, "labelLineHeight": 14, "labelFlush": false, "labelOverlap": false,
            "labelExpr": "['06/0' + (1 + floor(datum.value / 24)), (datum.value % 24 < 10 ? '0' : '') + (datum.value % 24) + ':00']"}},
        "y": {"field": "p", "type": "quantitative", "scale": {"domain": [1010, 1014.5], "nice": false, "zero": false},
          "axis": {"orient": "left", "title": "milliBars", "values": [1010,1010.5,1011,1011.5,1012,1012.5,1013,1013.5,1014,1014.5], "format": "~f", "tickSize": -6, "labelPadding": 11, "labelFlush": false, "labelOverlap": false, "titleX": -62, "titleY": 200, "titleAngle": -90, "titleAlign": "center", "titleBaseline": "middle"}},
        "color": {"field": "series", "type": "nominal", "scale": {"domain": ["F9055 Analysis", "F9055"], "range": ["#ff0000", "#0080ff"]},
          "legend": {"orient": "none", "legendX": 517.5, "legendY": 4, "padding": 0, "title": null, "symbolType": "M-4,0H4", "symbolSize": 64, "symbolStrokeWidth": 1, "symbolFillColor": "transparent", "labelFont": "DejaVu Sans Mono", "labelFontSize": 10, "labelColor": "black", "labelAlign": "right", "labelOffset": -25.5, "rowPadding": 4}},
        "detail": {"field": "seg"}
      }
    },
    {
      "mark": {"type": "point", "opacity": 0},
      "encoding": {
        "x": {"field": "h", "type": "quantitative", "scale": {"domain": [0, 72], "nice": false, "zero": false},
          "axis": {"orient": "top", "title": null, "labels": false, "values": [0,6,12,18,24,30,36,42,48,54,60,66,72], "tickSize": -6}},
        "y": {"field": "p", "type": "quantitative", "scale": {"domain": [1010, 1014.5], "nice": false, "zero": false},
          "axis": {"orient": "right", "title": null, "labels": false, "values": [1010,1010.5,1011,1011.5,1012,1012.5,1013,1013.5,1014,1014.5], "tickSize": -6}}
      }
    }
  ],
  "resolve": {"scale": {"x": "independent", "y": "independent"}, "axis": {"x": "independent", "y": "independent"}}
}
